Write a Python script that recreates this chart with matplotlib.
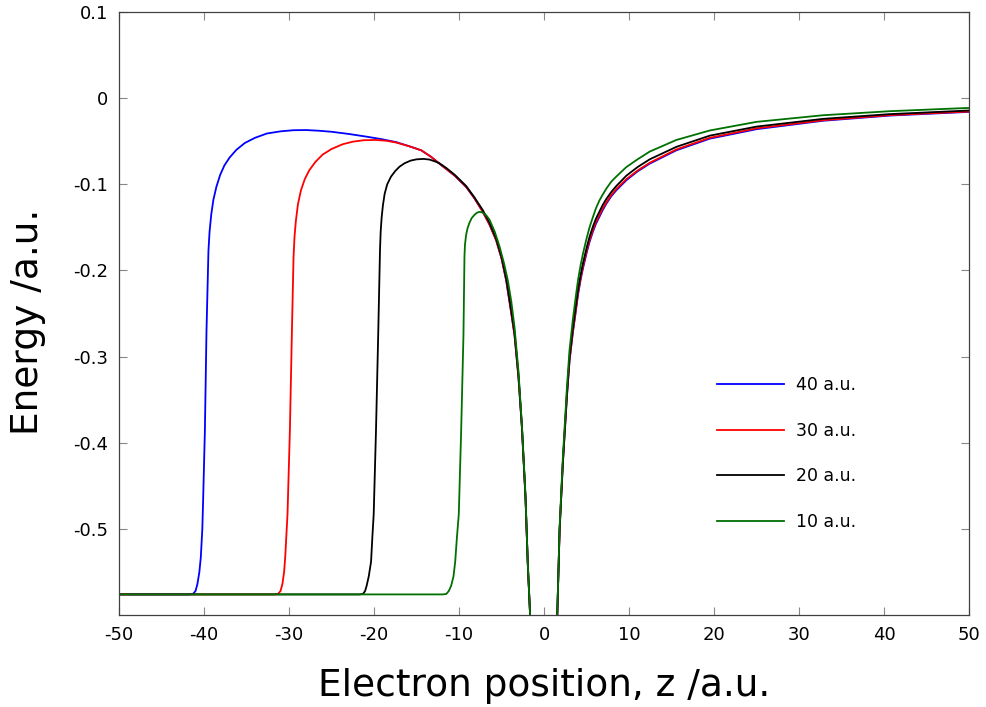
import numpy as np
import matplotlib
matplotlib.use("Agg")
import matplotlib.pyplot as plt
from matplotlib.ticker import FormatStrFormatter

plt.rcParams['axes.unicode_minus'] = False
plt.rcParams['font.family'] = ['DejaVu Sans']

# barrier distance labels and colours
labels = ['40 a.u.', '30 a.u.', '20 a.u.', '10 a.u.']
colors = ['#0000ff', '#ff0000', '#000000', '#007000']

# left part (z < 0) of each curve
z_left_40 = [-50, -41.75, -41.3, -41.0, -40.78, -40.55, -40.38, -40.2, -40.1, -39.9, -39.71, -39.48,
             -39.35, -39.15, -38.9, -38.55, -38.1, -37.6, -37.0, -36.2, -35.2, -34.0, -32.6, -31.0,
             -29.5, -28.0, -26.5, -25.0, -23.0, -21.0, -19.15, -17.4, -15.8, -14.45, -13.3, -12.31,
             -11.4, -10.5, -9.16, -8.2, -7.2, -6.4, -5.63, -5.0, -4.45, -4.0, -3.47, -3.0, -2.6,
             -2.18, -1.91, -1.63]
e_left_40 = [-0.576, -0.576, -0.5755, -0.572, -0.564, -0.550, -0.533, -0.500, -0.464, -0.386, -0.270, -0.177,
             -0.155, -0.135, -0.118, -0.103, -0.089, -0.078, -0.069, -0.060, -0.052, -0.046, -0.041, -0.0385,
             -0.0372, -0.0370, -0.0378, -0.039, -0.0415, -0.0445, -0.0475, -0.051, -0.056, -0.0605, -0.068, -0.076,
             -0.083, -0.090, -0.103, -0.116, -0.132, -0.147, -0.165, -0.186, -0.2116, -0.240, -0.275, -0.325, -0.383,
             -0.464, -0.541, -0.602]

z_left_30 = [-50, -31.74, -31.3, -31.0, -30.78, -30.58, -30.45, -30.3, -30.18, -29.9, -29.66, -29.47,
             -29.35, -29.19, -28.95, -28.6, -28.15, -27.62, -26.9, -26.05, -25.0, -23.7, -22.5, -21.2,
             -19.8, -18.5, -17.4, -15.8, -14.45, -13.3, -12.31,
             -11.4, -10.5, -9.16, -8.2, -7.2, -6.4, -5.63, -5.0, -4.45, -4.0, -3.47, -3.0, -2.6,
             -2.18, -1.91, -1.63]
e_left_30 = [-0.576, -0.576, -0.5755, -0.572, -0.564, -0.550, -0.533, -0.505, -0.483, -0.386, -0.270, -0.1845,
             -0.160, -0.142, -0.123, -0.107, -0.094, -0.0837, -0.074, -0.0655, -0.059, -0.0535, -0.0505, -0.0488,
             -0.0485, -0.0495, -0.0515, -0.056, -0.0605, -0.068, -0.076,
             -0.083, -0.090, -0.103, -0.116, -0.132, -0.147, -0.165, -0.186, -0.2116, -0.240, -0.275, -0.325, -0.383,
             -0.464, -0.541, -0.602]

z_left_20 = [-50, -21.73, -21.3, -21.05, -20.87, -20.62, -20.35, -20.2, -20.04, -19.77, -19.5, -19.3,
             -19.22, -19.1, -18.95, -18.75, -18.45, -18.0, -17.5, -17.0, -16.4, -15.7, -15.0, -14.2,
             -13.5, -12.8, -12.31, -11.5, -10.5,
             -9.16, -8.2, -7.2, -6.4, -5.63, -5.0, -4.45, -4.0, -3.47, -3.0, -2.6, -2.18, -1.91, -1.63]
e_left_20 = [-0.576, -0.576, -0.5755, -0.572, -0.566, -0.555, -0.538, -0.510, -0.483, -0.386, -0.270, -0.177,
             -0.155, -0.138, -0.124, -0.111, -0.100, -0.091, -0.0845, -0.0795, -0.0755, -0.0725, -0.071, -0.0705,
             -0.0712, -0.0735, -0.0755, -0.081, -0.089,
             -0.102, -0.115, -0.130, -0.145, -0.163, -0.184, -0.209, -0.237, -0.272, -0.322, -0.381, -0.463, -0.541, -0.602]

z_left_10 = [-50, -11.92, -11.5, -11.2, -10.93, -10.65, -10.45, -10.25, -10.03, -9.75, -9.48, -9.36,
             -9.3, -9.17, -9.0, -8.77, -8.5, -8.19, -7.9, -7.6, -7.3, -7.01, -6.72, -6.42, -5.8, -5.24,
             -4.7, -4.26, -3.85, -3.47, -3.0, -2.6, -2.18, -1.91, -1.63]
e_left_10 = [-0.576, -0.576, -0.5755, -0.572, -0.566, -0.555, -0.538, -0.510, -0.483, -0.386, -0.275, -0.183,
             -0.170, -0.159, -0.151, -0.1445, -0.139, -0.1355, -0.133, -0.132, -0.1325, -0.134, -0.137, -0.141, -0.155, -0.172,
             -0.192, -0.2116, -0.236, -0.266, -0.318, -0.380, -0.462, -0.540, -0.602]

# right part (z > 0), same sample positions for every curve
z_right = [1.55, 1.83, 2.21, 2.69, 3.0, 3.39, 3.7, 4.0, 4.3, 4.57, 5.0, 5.35, 5.75, 6.1, 6.5, 6.9,
           7.33, 7.9, 8.5, 9.68, 11.0, 12.43, 15.57, 19.5, 25.0, 32.84, 40.7, 50.0]
e_right_40 = [-0.602, -0.502, -0.425, -0.347, -0.305, -0.272, -0.250, -0.228, -0.211, -0.198, -0.180, -0.167,
              -0.155, -0.146, -0.138, -0.130, -0.1225, -0.114, -0.107, -0.0953, -0.085, -0.076, -0.0605,
              -0.047, -0.036, -0.0262, -0.0202, -0.0159]
e_right_30 = [-0.602, -0.502, -0.424, -0.346, -0.304, -0.271, -0.249, -0.226, -0.209, -0.196, -0.178, -0.165,
              -0.153, -0.144, -0.136, -0.128, -0.121, -0.1125, -0.1055, -0.094, -0.084, -0.075, -0.0595,
              -0.046, -0.035, -0.0256, -0.0197, -0.0155]
e_right_20 = [-0.602, -0.501, -0.423, -0.343, -0.300, -0.267, -0.244, -0.222, -0.205, -0.192, -0.174, -0.161,
              -0.149, -0.140, -0.132, -0.124, -0.117, -0.109, -0.102, -0.090, -0.080, -0.071, -0.0565,
              -0.0435, -0.033, -0.0240, -0.0185, -0.0143]
e_right_10 = [-0.602, -0.498, -0.418, -0.336, -0.292, -0.257, -0.233, -0.211, -0.194, -0.181, -0.163, -0.150,
              -0.138, -0.128, -0.119, -0.112, -0.105, -0.097, -0.091, -0.080, -0.071, -0.062, -0.0485,
              -0.0375, -0.0275, -0.0198, -0.0151, -0.0113]

curves = [
    (z_left_40, e_left_40, e_right_40),
    (z_left_30, e_left_30, e_right_30),
    (z_left_20, e_left_20, e_right_20),
    (z_left_10, e_left_10, e_right_10),
]

fig = plt.figure(figsize=(9.87, 7.07), dpi=100)
ax = fig.add_axes([0.1206, 0.130, 0.8612, 0.853])

for (zl, el, er), lab, col in zip(curves, labels, colors):
    # NaN breaks the line where the well leaves the plotted range
    z = np.concatenate([zl, [np.nan], z_right])
    e = np.concatenate([el, [np.nan], er])
    ax.plot(z, e, color=col, lw=1.3, label=lab)

ax.set_xlim(-50, 50)
ax.set_ylim(-0.6, 0.1)
ax.set_xticks(np.arange(-50, 51, 10))
ax.set_yticks([-0.5, -0.4, -0.3, -0.2, -0.1, 0, 0.1])
ax.yaxis.set_major_formatter(FormatStrFormatter('%g'))

ax.tick_params(direction='in', length=6, width=0.8, color='#888888',
               top=True, right=True, labelsize=13, pad=8)
for sp in ax.spines.values():
    sp.set_color('#404040')
    sp.set_linewidth(0.9)

ax.set_xlabel('Electron position, z /a.u.', fontsize=27)
ax.set_ylabel('Energy /a.u.', fontsize=27)
ax.xaxis.set_label_coords(0.5, -0.087)
ax.yaxis.set_label_coords(-0.086, 0.487)

ax.legend(loc='center left', bbox_to_anchor=(0.703, 0.268), frameon=False,
          fontsize=12.5, handlelength=3.9, handletextpad=0.7, labelspacing=1.6,
          borderpad=0, borderaxespad=0)

fig.savefig('out.png', dpi=100)
